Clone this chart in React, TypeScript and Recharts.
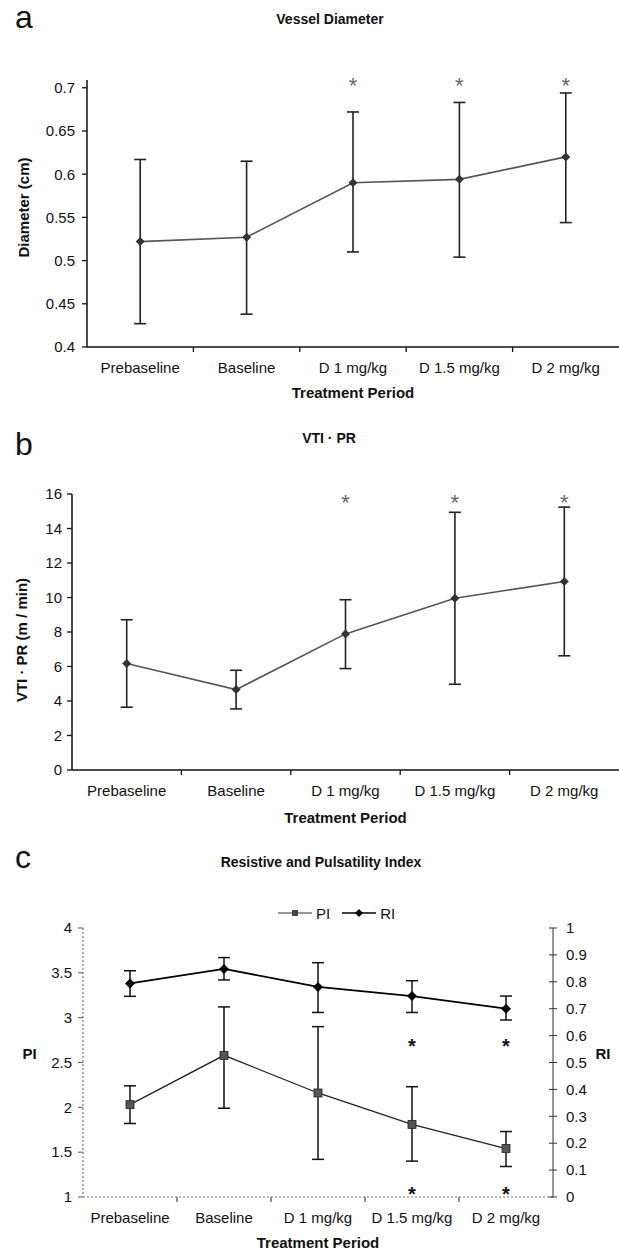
import React from 'react';
import { ComposedChart, Line, XAxis, YAxis, ErrorBar } from 'recharts';

const periods = ['Prebaseline', 'Baseline', 'D 1 mg/kg', 'D 1.5 mg/kg', 'D 2 mg/kg'];

// a: vessel diameter (cm), mean with lower/upper ends of the error bars
const diameterMean = [0.522, 0.527, 0.59, 0.594, 0.62];
const diameterUpper = [0.617, 0.615, 0.672, 0.683, 0.694];
const diameterLower = [0.427, 0.438, 0.51, 0.504, 0.544];
const diameterSig = [null, null, 0.709, 0.709, 0.709];
const diameterTicks = [0.4, 0.45, 0.5, 0.55, 0.6, 0.65, 0.7];

// b: VTI · PR (m / min)
const vtiMean = [6.17, 4.66, 7.89, 9.96, 10.93];
const vtiUpper = [8.71, 5.78, 9.87, 14.94, 15.24];
const vtiLower = [3.64, 3.54, 5.88, 4.97, 6.62];
const vtiSig = [null, null, 15.8, 15.8, 15.8];
const vtiTicks = [0, 2, 4, 6, 8, 10, 12, 14, 16];

// c: pulsatility (left axis) and resistive (right axis) index
const piMean = [2.03, 2.58, 2.16, 1.81, 1.54];
const piUpper = [2.24, 3.12, 2.9, 2.23, 1.73];
const piLower = [1.82, 1.99, 1.42, 1.4, 1.34];
const piSig = [null, null, null, 1.08, 1.08];
const riMean = [0.794, 0.848, 0.781, 0.747, 0.7];
const riUpper = [0.841, 0.89, 0.871, 0.804, 0.747];
const riLower = [0.746, 0.807, 0.686, 0.686, 0.658];
const riSig = [null, null, null, 0.577, 0.577];
const piTicks = [1, 1.5, 2, 2.5, 3, 3.5, 4];
const riTicks = [0, 0.1, 0.2, 0.3, 0.4, 0.5, 0.6, 0.7, 0.8, 0.9, 1];

const FONT = '"Liberation Sans", Arial, Helvetica, sans-serif';
const W = 619;

const diameterRows = periods.map((p, i) => ({
  period: p,
  mean: diameterMean[i],
  err: [diameterMean[i] - diameterLower[i], diameterUpper[i] - diameterMean[i]],
  sig: diameterSig[i],
}));

const vtiRows = periods.map((p, i) => ({
  period: p,
  mean: vtiMean[i],
  err: [vtiMean[i] - vtiLower[i], vtiUpper[i] - vtiMean[i]],
  sig: vtiSig[i],
}));

const indexRows = periods.map((p, i) => ({
  period: p,
  pi: piMean[i],
  piErr: [piMean[i] - piLower[i], piUpper[i] - piMean[i]],
  piSig: piSig[i],
  ri: riMean[i],
  riErr: [riMean[i] - riLower[i], riUpper[i] - riMean[i]],
  riSig: riSig[i],
}));

const diamondDot = (r: number, fill: string) => (props: any) => {
  const { cx, cy, index } = props;
  if (cx == null || cy == null) return <g key={`dm-${index}`} />;
  return (
    <polygon
      key={`dm-${index}`}
      points={`${cx},${cy - r} ${cx + r},${cy} ${cx},${cy + r} ${cx - r},${cy}`}
      fill={fill}
    />
  );
};

const squareDot = (r: number, fill: string) => (props: any) => {
  const { cx, cy, index } = props;
  if (cx == null || cy == null) return <g key={`sq-${index}`} />;
  return <rect key={`sq-${index}`} x={cx - r} y={cy - r} width={2 * r} height={2 * r} fill={fill} stroke="#222" strokeWidth={0.8} />;
};

// significance marks: an asterisk centred on the point
const starDot = (size: number, fill: string, weight: string) => (props: any) => {
  const { cx, cy, index, value } = props;
  if (value == null || cx == null || cy == null) return <g key={`st-${index}`} />;
  return (
    <text key={`st-${index}`} x={cx} y={cy + size * 0.57} textAnchor="middle" fontSize={size} fontWeight={weight} fill={fill}>
      *
    </text>
  );
};

function CategoryTick(props: any) {
  const { x, y, payload, index, band, gap, stroke } = props;
  const axisY = y - gap;
  const bx = x + band / 2;
  return (
    <g>
      <text x={x} y={y} dy="0.71em" textAnchor="middle" fontSize={15} fill="#111">
        {payload.value}
      </text>
      {index < periods.length - 1 && (
        <line x1={bx} x2={bx} y1={axisY} y2={axisY + 5} stroke={stroke} strokeWidth={1.3} />
      )}
    </g>
  );
}

function CrossTick(props: any) {
  const { x, y, payload, gap } = props;
  const ax = x - gap;
  return (
    <g>
      <line x1={ax - 4} x2={ax + 4} y1={y} y2={y} stroke="#333" strokeWidth={1} />
      <text x={x} y={y} dy="0.35em" textAnchor="start" fontSize={15} fill="#111">
        {payload.value}
      </text>
    </g>
  );
}

const textStyle = { position: 'absolute' as const, lineHeight: 1, whiteSpace: 'nowrap' as const };

function PanelLetter({ top, text }: { top: number; text: string }) {
  return <div style={{ ...textStyle, left: 15, top, fontSize: 32 }}>{text}</div>;
}

function PanelTitle({ top, cx, text }: { top: number; cx: number; text: string }) {
  return (
    <div style={{ ...textStyle, left: cx - 200, width: 400, top, fontSize: 14, fontWeight: 'bold', textAlign: 'center' }}>
      {text}
    </div>
  );
}

interface TrendProps {
  top: number;
  height: number;
  rows: any[];
  yWidth: number;
  marginTop: number;
  xHeight: number;
  labelOffset: number;
  domain: number[];
  ticks: number[];
  yLabel: string;
  yLabelDx: number;
  yLabelDy: number;
  tickMargin: number;
}

function TrendPanel(p: TrendProps) {
  const band = (W - p.yWidth) / periods.length;
  return (
    <div style={{ position: 'absolute', left: 0, top: p.top }}>
      <ComposedChart width={W} height={p.height} data={p.rows} margin={{ top: p.marginTop, right: 0, bottom: 0, left: 0 }}>
        <XAxis
          dataKey="period"
          scale="band"
          height={p.xHeight}
          tickSize={0}
          tickMargin={15}
          axisLine={{ stroke: '#111', strokeWidth: 1.5 }}
          tickLine={false}
          interval={0}
          tick={(t: any) => <CategoryTick {...t} band={band} gap={15} stroke="#111" />}
          label={{ value: 'Treatment Period', position: 'insideBottom', offset: p.labelOffset, fontSize: 15, fontWeight: 'bold', fill: '#111' }}
        />
        <YAxis
          width={p.yWidth}
          domain={p.domain}
          ticks={p.ticks}
          interval={0}
          tickSize={5}
          tickMargin={p.tickMargin}
          axisLine={{ stroke: '#111', strokeWidth: 1.5 }}
          tickLine={{ stroke: '#111', strokeWidth: 1.3 }}
          tick={{ fontSize: 15, fill: '#111' }}
          label={{ value: p.yLabel, angle: -90, position: 'center', dx: p.yLabelDx, dy: p.yLabelDy, fontSize: 15, fontWeight: 'bold', fill: '#111' }}
        />
        <Line dataKey="mean" stroke="#555" strokeWidth={1.6} dot={diamondDot(4.5, '#333')} activeDot={false} isAnimationActive={false}>
          <ErrorBar dataKey="err" width={6} stroke="#222" strokeWidth={1.6} direction="y" />
        </Line>
        <Line dataKey="sig" stroke="none" dot={starDot(22, '#666', 'normal')} activeDot={false} isAnimationActive={false} />
      </ComposedChart>
    </div>
  );
}

function IndexPanel() {
  const band = (553 - 83) / periods.length;
  return (
    <div style={{ position: 'absolute', left: 0, top: 840 }}>
      <ComposedChart width={W} height={413} data={indexRows} margin={{ top: 88, right: 0, bottom: 0, left: 0 }}>
        <XAxis
          dataKey="period"
          scale="band"
          height={56}
          tickSize={0}
          tickMargin={15}
          axisLine={{ stroke: '#777', strokeWidth: 1.2, strokeDasharray: '2 2' }}
          tickLine={false}
          interval={0}
          tick={(t: any) => <CategoryTick {...t} band={band} gap={15} stroke="#555" />}
          label={{ value: 'Treatment Period', position: 'insideBottom', offset: 5, fontSize: 15, fontWeight: 'bold', fill: '#111' }}
        />
        <YAxis
          yAxisId="pi"
          width={83}
          domain={[1, 4]}
          ticks={piTicks}
          interval={0}
          tickSize={5}
          tickMargin={6}
          axisLine={{ stroke: '#777', strokeWidth: 1.2, strokeDasharray: '2 2' }}
          tickLine={{ stroke: '#555' }}
          tick={{ fontSize: 15, fill: '#111' }}
          label={{ value: 'PI', position: 'center', dx: -12, dy: -9, fontSize: 15, fontWeight: 'bold', fill: '#111' }}
        />
        <YAxis
          yAxisId="ri"
          orientation="right"
          width={66}
          domain={[0, 1]}
          ticks={riTicks}
          interval={0}
          tickSize={0}
          tickMargin={13}
          axisLine={{ stroke: '#333', strokeWidth: 1 }}
          tickLine={false}
          tick={(t: any) => <CrossTick {...t} gap={13} />}
          label={{ value: 'RI', position: 'center', dx: 17, dy: -9, fontSize: 15, fontWeight: 'bold', fill: '#111' }}
        />
        <Line yAxisId="pi" dataKey="pi" stroke="#222" strokeWidth={1.3} dot={squareDot(4, '#555')} activeDot={false} isAnimationActive={false}>
          <ErrorBar dataKey="piErr" width={6} stroke="#111" strokeWidth={1.5} direction="y" />
        </Line>
        <Line yAxisId="ri" dataKey="ri" stroke="#000" strokeWidth={1.8} dot={diamondDot(5, '#000')} activeDot={false} isAnimationActive={false}>
          <ErrorBar dataKey="riErr" width={6} stroke="#111" strokeWidth={1.5} direction="y" />
        </Line>
        <Line yAxisId="pi" dataKey="piSig" stroke="none" dot={starDot(20, '#111', 'bold')} activeDot={false} isAnimationActive={false} />
        <Line yAxisId="ri" dataKey="riSig" stroke="none" dot={starDot(20, '#111', 'bold')} activeDot={false} isAnimationActive={false} />
      </ComposedChart>
    </div>
  );
}

function IndexLegend() {
  return (
    <div style={{ position: 'absolute', left: 278, top: 905, height: 16, display: 'flex', alignItems: 'center', fontSize: 15 }}>
      <svg width={34} height={12}>
        <line x1={0} x2={34} y1={6} y2={6} stroke="#333" strokeWidth={1} />
        <rect x={14} y={3} width={6} height={6} fill="#444" />
      </svg>
      <span style={{ margin: '0 12px 0 4px' }}>PI</span>
      <svg width={34} height={12}>
        <line x1={0} x2={34} y1={6} y2={6} stroke="#000" strokeWidth={1.6} />
        <polygon points="17,2 21,6 17,10 13,6" fill="#000" />
      </svg>
      <span style={{ marginLeft: 4 }}>RI</span>
    </div>
  );
}

export default function App() {
  return (
    <div style={{ position: 'absolute', left: 0, top: 0, width: W, height: 1253, background: '#fff', fontFamily: FONT, color: '#111', overflow: 'hidden' }}>
      <PanelLetter top={1} text="a" />
      <PanelTitle top={12} cx={330} text="Vessel Diameter" />
      <TrendPanel
        top={0}
        height={410}
        rows={diameterRows}
        yWidth={87}
        marginTop={80}
        xHeight={63}
        labelOffset={12}
        domain={[0.4, 0.7]}
        ticks={diameterTicks}
        yLabel="Diameter (cm)"
        yLabelDx={-20}
        yLabelDy={-6}
        tickMargin={7}
      />

      <PanelLetter top={428} text="b" />
      <PanelTitle top={431} cx={329} text="VTI · PR" />
      <TrendPanel
        top={400}
        height={430}
        rows={vtiRows}
        yWidth={72}
        marginTop={94}
        xHeight={60}
        labelOffset={7}
        domain={[0, 16]}
        ticks={vtiTicks}
        yLabel="VTI · PR (m / min)"
        yLabelDx={-14}
        yLabelDy={8}
        tickMargin={5}
      />

      <PanelLetter top={841} text="c" />
      <PanelTitle top={855} cx={321} text="Resistive and Pulsatility Index" />
      <IndexLegend />
      <IndexPanel />
    </div>
  );
}
